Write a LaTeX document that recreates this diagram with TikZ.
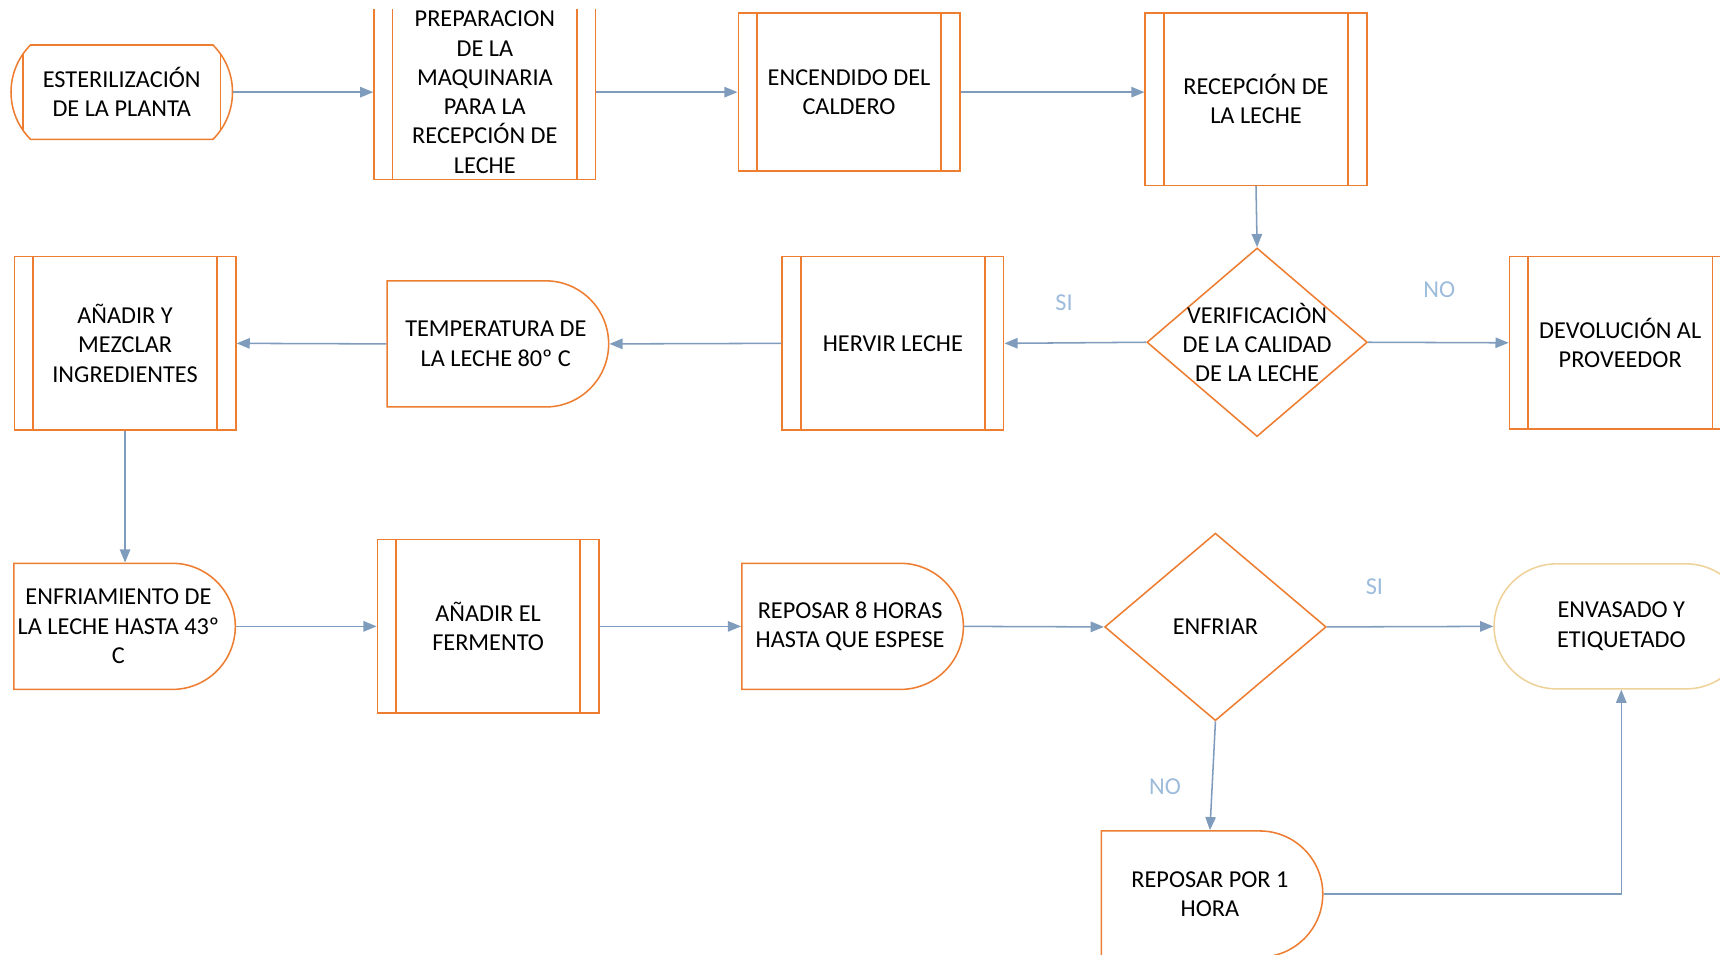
\documentclass[tikz,border=0pt]{standalone}
\usepackage{fontspec}
\setmainfont{Carlito}
\usetikzlibrary{arrows.meta,positioning,shapes.geometric,shapes.misc}
\definecolor{naranja}{HTML}{ED7D31}
\definecolor{azulgris}{HTML}{7F9CBD}
\definecolor{celeste}{HTML}{9DBBDB}
\definecolor{arena}{HTML}{EED29A}
\tikzset{
  paso/.style={draw=naranja, line width=0.8pt, minimum width=4.04cm, align=center,
               inner sep=2pt, font=\fontsize{12.6}{15.2}\selectfont},
  predef/.style={paso, rectangle, path picture={
      \draw[naranja, line width=0.8pt] ([xshift=0.34cm]path picture bounding box.north west)
        -- ([xshift=0.34cm]path picture bounding box.south west);
      \draw[naranja, line width=0.8pt] ([xshift=-0.34cm]path picture bounding box.north east)
        -- ([xshift=-0.34cm]path picture bounding box.south east);}},
  almacen/.style={paso, rounded rectangle, rounded rectangle arc length=90, minimum height=1.72cm,
      minimum width=4.18cm, path picture={
      \draw[naranja, line width=0.8pt] ([xshift=0.34cm]path picture bounding box.north west)
        -- ([xshift=0.34cm]path picture bounding box.south west);
      \draw[naranja, line width=0.8pt] ([xshift=-0.34cm]path picture bounding box.north east)
        -- ([xshift=-0.34cm]path picture bounding box.south east);}},
  demora/.style={paso, rounded rectangle, rounded rectangle west arc=none, minimum height=2.3cm,
      minimum width=4.18cm},
  terminal/.style={paso, draw=arena, rounded rectangle, minimum height=2.28cm, minimum width=4.78cm},
  decision/.style={draw=naranja, line width=0.8pt, diamond, inner sep=0pt,
                   minimum width=4.02cm, minimum height=3.44cm},
  dtexto/.style={align=center, inner sep=0pt, font=\fontsize{12.6}{15.2}\selectfont},
  flecha/.style={-{Triangle[length=0.24cm,width=0.19cm]}, line width=0.8pt, draw=azulgris},
  etiq/.style={text=celeste, font=\fontsize{12.6}{15.2}\selectfont}
}
\begin{document}
\begin{tikzpicture}[x=0.02cm,y=-0.02cm]
\useasboundingbox (0,0) rectangle (1568,870);
\clip (0,0) rectangle (1568,870);

% fila superior
\node[almacen] (ester) at (111,84) {ESTERILIZACIÓN\\DE LA PLANTA};
\begin{scope}
  \clip (0,9) rectangle (1568,870);
  \node[predef, minimum height=3.18cm] (prep) at (442,84) {PREPARACION\\DE LA\\MAQUINARIA\\PARA LA\\RECEPCIÓN DE\\LECHE};
\end{scope}
\node[predef, minimum height=2.88cm] (enc) at (774,84) {ENCENDIDO DEL\\CALDERO};
\node[predef, minimum height=3.14cm] (rec) at (1145,90.5) {RECEPCIÓN DE\\LA LECHE};

% fila media
\node[decision, label={[dtexto]center:{VERIFICACIÒN\\DE LA CALIDAD\\DE LA LECHE}}] (verif) at (1146,312) {};
\node[predef, minimum height=3.14cm] (devol) at (1477,312.5) {DEVOLUCIÓN AL\\PROVEEDOR};
\node[predef, minimum height=3.16cm] (herv) at (814,313) {HERVIR LECHE};
\node[demora] (temp) at (452,313.5) {TEMPERATURA DE\\LA LECHE 80º C};
\node[predef, minimum height=3.16cm] (mezcl) at (114,313) {AÑADIR Y\\MEZCLAR\\INGREDIENTES};

% fila inferior
\node[demora] (enfri) at (108,571) {ENFRIAMIENTO DE\\LA LECHE HASTA 43º\\C};
\node[predef, minimum height=3.16cm] (ferm) at (445,571) {AÑADIR EL\\FERMENTO};
\node[demora] (repo8) at (775,571) {REPOSAR 8 HORAS\\HASTA QUE ESPESE};
\node[decision, minimum width=4.04cm, minimum height=3.42cm,
      label={[dtexto]center:ENFRIAR}] (enfriar) at (1108,571.5) {};
\node[terminal] (envas) at (1478,571) {ENVASADO Y\\ETIQUETADO};
\node[demora] (repo1) at (1103,815) {REPOSAR POR 1\\HORA};

% conectores
\draw[flecha] (ester.east) -- (ester.east -| prep.west);
\draw[flecha] (prep.east) -- (enc.west);
\draw[flecha] (enc.east) -- (enc.east -| rec.west);
\draw[flecha] (rec.south) -- (verif.north);
\draw[flecha] (verif.west) -- (herv.east);
\draw[flecha] (verif.east) -- (devol.west);
\draw[flecha] (herv.west) -- (temp.east);
\draw[flecha] (temp.west) -- (mezcl.east);
\draw[flecha] (mezcl.south) -- (mezcl.south |- enfri.north);
\draw[flecha] (enfri.east) -- (ferm.west);
\draw[flecha] (ferm.east) -- (repo8.west);
\draw[flecha] (repo8.east) -- (enfriar.west);
\draw[flecha] (enfriar.east) -- (envas.west);
\draw[flecha] (enfriar.south) -- (repo1.north);
\draw[flecha] (repo1.east) -| (envas.south);

% etiquetas
\node[etiq] (si1) at (970,276) {SI};
\node[etiq] (no1) at (1312,264) {NO};
\node[etiq] (si2) at (1253,535) {SI};
\node[etiq] (no2) at (1062,717) {NO};
\end{tikzpicture}
\end{document}
